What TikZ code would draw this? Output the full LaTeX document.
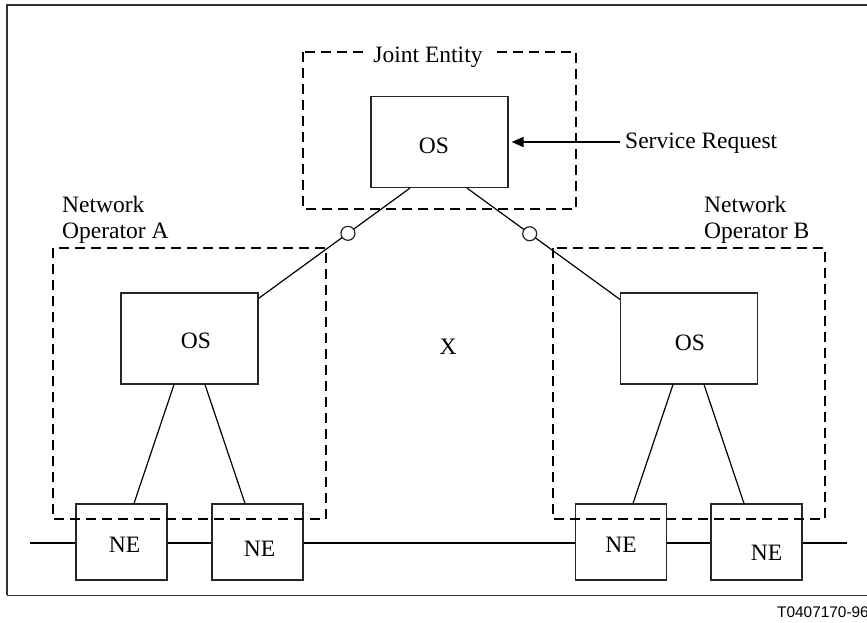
\documentclass[tikz,border=0pt]{standalone}
\usepackage{fontspec}
\setmainfont{Liberation Serif}
\newfontfamily\tagfont{Liberation Sans}
\usetikzlibrary{arrows.meta}
\begin{document}
\begin{tikzpicture}[x=1pt,y=-1pt,
  every node/.style={font=\fontsize{23.5}{26}\selectfont},
  osbox/.style={draw=black!85,line width=1.2pt,fill=white,minimum width=137pt,minimum height=91pt,inner sep=0pt},
  nebox/.style={draw=black!85,line width=1.2pt,fill=white,minimum width=91pt,minimum height=76pt,inner sep=0pt},
  txt/.style={inner sep=0pt},
  admdomain/.style={draw=black,line width=2pt,dash pattern=on 10pt off 6pt},
  link/.style={draw=black,line width=1.2pt},
  bus/.style={draw=black,line width=2pt},
  port/.style={circle,draw=black!85,line width=1.2pt,fill=white,minimum size=14pt,inner sep=0pt}]

\useasboundingbox (0,0) rectangle (867,623);

% frame
\draw[line width=1.6pt,black!80] (867,5) -- (7,5) -- (7,595);
\draw[line width=1pt,black!80] (7,595) -- (867,595);

% transmission bus behind the network elements
\coordinate (busL) at (30,543);
\coordinate (busR) at (847,543);
\draw[bus] (busL) -- (busR);

% operations systems
\node[osbox,label={[txt,xshift=-5.5pt,yshift=-4pt]center:OS}] (jos) at (439.5,142) {};
\node[osbox,label={[txt,xshift=6.5pt,yshift=-2.5pt]center:OS}] (osa) at (189.5,338.5) {};
\node[osbox,label={[txt,xshift=1pt,yshift=-4.5pt]center:OS}] (osb) at (689,338.5) {};

% network elements
\node[nebox,label={[txt,xshift=3pt,yshift=-3pt]center:NE}] (ne1) at (121.5,542) {};
\node[nebox,label={[txt,xshift=2pt,yshift=-6.5pt]center:NE}] (ne2) at (257.5,542) {};
\node[nebox,label={[txt,yshift=-3pt]center:NE}] (ne3) at (621,542) {};
\node[nebox,label={[txt,xshift=10pt,yshift=-10.5pt]center:NE}] (ne4) at (756.5,542) {};

% OS to NE links
\draw[link] ([xshift=-15.5pt]osa.south) -- ([xshift=12.5pt]ne1.north);
\draw[link] ([xshift=15.5pt]osa.south) -- ([xshift=-12.5pt]ne2.north);
\draw[link] ([xshift=-16pt]osb.south) -- ([xshift=12pt]ne3.north);
\draw[link] ([xshift=15pt]osb.south) -- ([xshift=-12.5pt]ne4.north);

% inter-domain interfaces
\draw[link] ([xshift=-29.5pt]jos.south) -- node[port,pos=0.41] (pa) {} ([yshift=-6pt]osa.north east);
\draw[link] ([xshift=27.5pt]jos.south) -- node[port,pos=0.41] (pb) {} ([yshift=-7pt]osb.north west);

% administrative domains
\draw[admdomain] (303,52) rectangle (576,209);
\draw[admdomain] (53,248) rectangle (326,519);
\draw[admdomain] (553,248) rectangle (825,519);

% labels
\node[fill=white,inner xsep=8pt,inner ysep=2pt,anchor=base] (je) at (428,63) {Joint Entity};
\node[txt,align=left,anchor=north west] (noa) at (62,195.5) {Network\\Operator A};
\node[txt,align=left,anchor=north west] (nob) at (704,195.5) {Network\\Operator B};
\node[txt,anchor=center] (x) at (448,347) {X};
\node[inner xsep=5pt,inner ysep=0pt,anchor=base west] (sr) at (620,149) {Service Request};
\draw[line width=2pt,-{Triangle[length=12pt,width=10pt]},shorten >=3pt] (sr.west |- jos.east) -- (jos.east);

\node[txt,font=\tagfont\fontsize{15.4}{18}\selectfont,anchor=base west] (tag) at (777,617) {T0407170-96};
\end{tikzpicture}
\end{document}
